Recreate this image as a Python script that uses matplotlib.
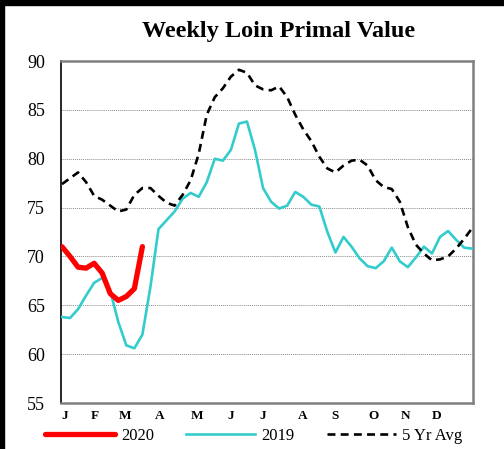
import matplotlib
matplotlib.use("Agg")
import matplotlib.pyplot as plt
from matplotlib.patches import Rectangle

weeks = list(range(52))
avg5 = [77.4, 78.0, 78.6, 77.6, 76.2, 75.8, 75.2, 74.6, 74.8, 76.3,
        77.0, 77.0, 76.2, 75.5, 75.2, 76.3, 77.8, 80.5, 84.5, 86.3,
        87.2, 88.4, 89.1, 88.8, 87.5, 87.1, 87.0, 87.4, 86.3, 84.5,
        83.0, 81.8, 80.2, 79.0, 78.6, 79.3, 79.8, 79.9, 79.3, 77.8,
        77.1, 76.9, 75.6, 73.0, 71.2, 70.3, 69.6, 69.7, 70.0, 70.8,
        71.8, 72.9]
y2019 = [63.8, 63.7, 64.6, 66.0, 67.3, 67.8, 66.5, 63.3, 60.9, 60.6,
         62.0, 66.9, 72.8, 73.7, 74.6, 75.9, 76.5, 76.1, 77.6, 80.0,
         79.8, 80.9, 83.6, 83.8, 80.9, 77.0, 75.6, 74.9, 75.2, 76.6,
         76.1, 75.3, 75.1, 72.5, 70.4, 72.0, 71.0, 69.8, 69.0, 68.8,
         69.5, 70.9, 69.5, 68.9, 69.9, 71.0, 70.3, 72.0, 72.6, 71.7,
         70.9, 70.8]
y2020 = [71.0, 70.0, 68.9, 68.8, 69.3, 68.3, 66.2, 65.5, 65.9, 66.7, 71.0]

month_labels = ["J", "F", "M", "A", "M", "J", "J", "A", "S", "O", "N", "D"]
month_pos = [0.4, 4.1, 7.8, 12.2, 16.8, 21.0, 24.9, 29.9, 34.0, 38.7, 42.7, 46.6]
yticks = [55, 60, 65, 70, 75, 80, 85, 90]

plt.rcParams['font.family'] = ['Liberation Serif', 'DejaVu Serif']

fig = plt.figure(figsize=(5.04, 4.49), dpi=100)
ax = fig.add_axes([61/504, 1-403/449, 412/504, 342/449])

ax.plot(weeks[:len(y2020)], y2020, color="#ff0000", lw=3.8, label="2020",
        solid_capstyle="round", solid_joinstyle="round", zorder=4)
ax.plot(weeks, y2019, color="#33cccc", lw=1.9, label="2019",
        solid_joinstyle="round", zorder=3)
ax.plot(weeks, avg5, color="black", lw=1.9, ls=(0, (3, 2)), label="5 Yr Avg", zorder=3)

ax.set_ylim(55, 90)
ax.set_xlim(-0.12, 51.1)
ax.set_yticks(yticks)
ax.set_yticklabels([str(v) for v in yticks], fontsize=13)
ax.set_xticks(month_pos)
ax.set_xticklabels(month_labels, fontsize=9.5, fontweight="bold")
ax.tick_params(axis="y", length=0, pad=11.5)
ax.tick_params(axis="x", length=0, pad=5)
ax.yaxis.grid(True, color="#8c8c8c", ls=(0, (1, 1)), lw=0.7)
ax.set_axisbelow(True)

for s in ["top", "right", "bottom"]:
    ax.spines[s].set_color("#808080")
    ax.spines[s].set_linewidth(1.8)
ax.spines["left"].set_color("black")
ax.spines["left"].set_linewidth(1.2)

fig.text(279/504, 1-31/449, "Weekly Loin Primal Value", ha="center", va="center",
         fontsize=17.5, fontweight="bold")

leg = fig.legend(loc="center", bbox_to_anchor=(254/504, 1-436/449), ncol=3,
                 frameon=False, fontsize=12, handlelength=4.15, columnspacing=1.9,
                 handletextpad=0.4)

fig.patches.append(Rectangle((0, 0), 4/504, 1, transform=fig.transFigure,
                             color="black", zorder=10))
fig.patches.append(Rectangle((0, 1-5/449), 1, 5/449, transform=fig.transFigure,
                             color="black", zorder=10))

fig.savefig("out.png", dpi=100)
